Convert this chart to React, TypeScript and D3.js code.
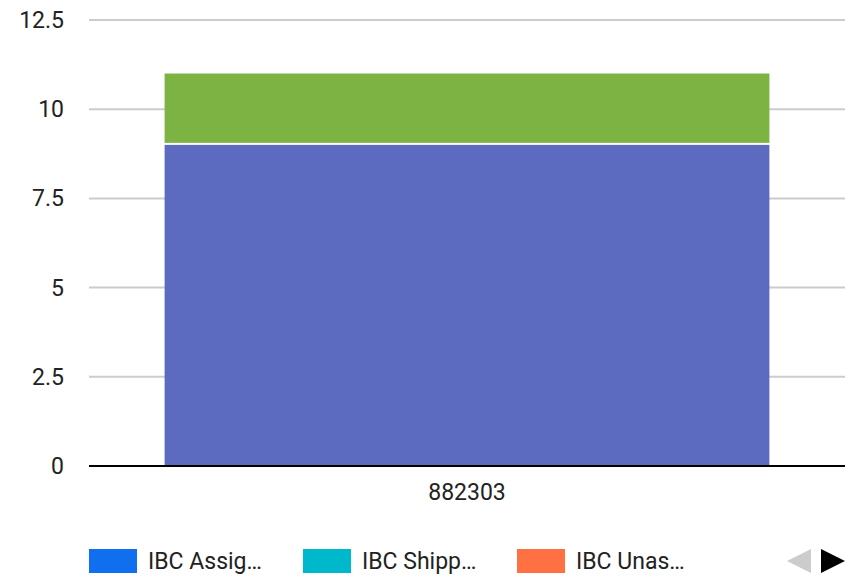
import React from "react";
import * as d3 from "d3";

const categories = ["882303"];
const seriesNames = ["IBC Assig…", "IBC Shipp…", "IBC Unas…"];
const legendColors = ["#0F6FEF", "#00B8CC", "#FF7043"];
const stackNames = ["A", "B"];
const stackValues = [[9], [2]];
const stackColors = ["#5C6BC0", "#7CB342"];
const yTicks = [0, 2.5, 5, 7.5, 10, 12.5];

const W = 862, H = 581;
const left = 89, right = 845, top = 20, bottom = 466;

export default function App() {
  const y = d3.scaleLinear().domain([0, 12.5]).range([bottom, top]);
  const x = d3.scaleBand<string>().domain(categories).range([left, right]).paddingInner(0.2).paddingOuter(0.1);
  const series = d3.stack<any>().keys(stackNames)(categories.map((c, i) => {
    const o: any = { cat: c };
    stackNames.forEach((k, j) => (o[k] = stackValues[j][i]));
    return o;
  }));
  const font = "Roboto, sans-serif";
  const fs = 23;
  return (
    <svg width={W} height={H} style={{ position: "absolute", left: 0, top: 0, background: "#fff" }} fontFamily={font}>
      {yTicks.map((t) => (
        <g key={t}>
          {t !== 0 && <line x1={left} x2={right} y1={y(t)} y2={y(t)} stroke="#ccc" strokeWidth={2} />}
          <text x={64} y={y(t)} dy="0.35em" textAnchor="end" fontSize={fs} fill="#222">{t}</text>
        </g>
      ))}
      {series.map((s, j) =>
        s.map((d, i) => {
          const y0 = y(d[0]);
          const y1 = y(d[1]);
          const h = j > 0 ? y0 - y1 - 2 : y0 - y1;
          return (
            <rect key={j + "-" + i} x={x(categories[i])} width={x.bandwidth()} y={y1} height={h} fill={stackColors[j]} />
          );
        })
      )}
      <line x1={left} x2={right} y1={bottom} y2={bottom} stroke="#000" strokeWidth={2} />
      {categories.map((c) => (
        <text key={c} x={(x(c) as number) + x.bandwidth() / 2} y={500} textAnchor="middle" fontSize={fs} fill="#222">{c}</text>
      ))}
      {seriesNames.map((n, i) => (
        <g key={n} transform={`translate(${89 + i * 214},549)`}>
          <rect width={48} height={24} fill={legendColors[i]} />
          <text x={59} y={12} dy="0.35em" fontSize={fs} fill="#222">{n}</text>
        </g>
      ))}
      <path d="M811,549 L787,561 L811,573 Z" fill="#ccc" />
      <path d="M821,549 L845,561 L821,573 Z" fill="#000" />
    </svg>
  );
}
